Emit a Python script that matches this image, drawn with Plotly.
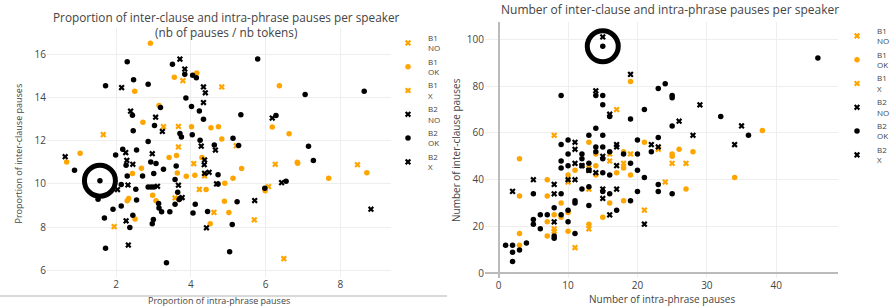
import plotly.graph_objects as go

W, H = 893, 307

# ---------------- Left chart: proportions ----------------
L_B1_NO_x = [1.66, 3.27, 3.79, 4.83, 3.67, 5.22, 4.37, 3.58, 6.08, 5.70]
L_B1_NO_y = [12.28, 12.65, 14.78, 14.49, 11.71, 11.77, 10.37, 9.35, 9.88, 8.34]
L_B1_OK_x = [2.92, 2.50, 3.15, 2.72, 1.04, 0.68, 2.68, 2.44, 2.34, 2.30, 2.98, 3.07, 2.51,
             3.56, 4.16, 6.37, 6.18, 4.02, 4.54, 4.74, 4.83, 3.42, 3.62, 4.30, 3.64, 3.88,
             4.11, 5.36, 4.41, 4.91, 5.13, 4.90, 5.99, 5.02, 4.52, 6.63, 6.85, 6.86, 7.69, 8.71]
L_B1_OK_y = [16.51, 14.29, 13.63, 12.85, 11.42, 11.02, 10.72, 10.48, 9.32, 9.22, 9.48, 9.22, 8.37,
             14.94, 15.14, 14.55, 12.63, 12.65, 12.60, 12.65, 12.08, 11.22, 11.32, 11.22, 10.51, 10.35,
             10.40, 10.71, 9.74, 10.03, 10.26, 9.20, 9.68, 8.68, 8.15, 12.32, 11.00, 10.96, 10.26, 10.52]
L_B1_X_x = [3.67, 4.08, 4.23, 4.62, 6.49, 1.95, 6.26, 8.46]
L_B1_X_y = [12.66, 10.94, 9.75, 8.68, 6.54, 8.02, 10.91, 10.89]
L_B2_NO_x = [2.15, 2.39, 3.06, 3.24, 0.64, 2.26, 2.97, 2.29, 2.45, 2.32, 2.04, 2.27, 2.33, 3.11, 3.71, 3.84]
L_B2_NO_y = [14.46, 13.37, 13.09, 12.43, 11.26, 11.45, 11.40, 11.09, 10.91, 9.95, 9.74, 8.29, 7.17, 9.89, 15.78, 15.32]
L_B2_OK_x = [2.30, 2.47, 1.72, 2.86, 3.19, 2.44, 3.03, 2.46, 2.86, 0.89, 1.99, 2.18, 2.55, 2.93, 3.07,
             3.27, 2.27, 3.01, 2.30, 2.71, 1.57, 2.14, 2.53, 2.86, 2.94, 3.01, 1.52, 2.55, 3.14, 3.22,
             3.15, 1.92, 2.14, 1.69, 2.45, 3.00, 2.97, 2.37, 1.72, 3.35, 3.51, 3.84, 4.05, 4.15, 5.79,
             3.87, 4.02, 4.23, 4.34, 5.34, 6.28, 3.71, 3.75, 4.04, 5.13, 4.25, 4.63, 5.28, 3.61, 4.73,
             3.58, 3.65, 3.58, 3.69, 3.72, 4.73, 5.24, 5.98, 6.55, 4.12, 4.06, 4.45, 5.11, 5.04, 3.44,
             7.06, 8.64, 7.15, 7.28]
L_B2_OK_y = [15.66, 14.82, 14.55, 14.62, 13.54, 13.18, 12.71, 12.46, 11.97, 10.63, 11.34, 11.60, 11.57, 11.02, 10.95,
             10.68, 10.86, 10.48, 10.37, 10.37, 10.15, 9.97, 9.75, 9.86, 9.86, 9.86, 9.29, 9.25, 9.09, 8.71,
             8.89, 8.83, 8.98, 8.42, 8.55, 8.35, 8.15, 7.98, 7.02, 6.35, 15.54, 15.08, 15.03, 14.92, 15.78,
             13.98, 13.58, 13.38, 13.00, 13.20, 13.17, 12.34, 12.17, 12.28, 12.12, 12.02, 11.80, 11.78, 10.83, 10.42,
             10.20, 9.62, 9.06, 9.28, 9.34, 10.00, 9.18, 9.80, 10.12, 9.06, 8.65, 8.72, 8.12, 6.86, 8.71,
             14.14, 14.29, 11.74, 11.08]
L_B2_X_x = [4.34, 4.39, 4.34, 6.18, 4.28, 4.66, 4.37, 4.36, 4.37, 4.49, 3.67, 3.77, 5.71, 6.43, 4.42, 8.82, 4.69]
L_B2_X_y = [14.49, 14.22, 13.77, 13.05, 11.75, 11.57, 11.11, 10.89, 10.49, 10.54, 9.94, 9.37, 9.23, 10.06, 7.97, 8.83, 10.00]
L_highlight_x = [1.57]
L_highlight_y = [10.15]

# ---------------- Right chart: counts ----------------
R_B1_NO_x = [8, 17, 16, 19, 23, 25, 27, 16, 18]
R_B1_NO_y = [59, 70, 51, 51, 53, 47, 47, 48, 47]
R_B1_OK_x = [19, 38, 13, 21, 26, 28, 25, 25, 18, 14, 14, 14, 17, 18, 19, 10, 11, 3, 3, 7, 7, 27, 34,
             15, 16, 18, 9, 9, 8, 10, 10, 7, 7, 3, 3, 13]
R_B1_OK_y = [82, 61, 56, 56, 53, 52, 51, 50, 52, 51, 46, 42, 43, 45, 42, 42, 44, 49, 33, 40, 33, 36, 41,
             24, 30, 31, 30, 24, 25, 26, 18, 22, 16, 17, 12, 21]
R_B1_X_x = [24, 21, 10, 13, 13, 8, 8, 11, 13]
R_B1_X_y = [39, 27, 39, 45, 19, 19, 18, 11, 36]
R_B2_NO_x = [15, 19, 14, 29, 16, 35, 26, 28, 11, 11, 17, 17, 22, 23, 34, 15]
R_B2_NO_y = [101, 85, 78, 72, 68, 63, 65, 59, 56, 53, 55, 54, 55, 54, 55, 50]
R_B2_OK_x = [15, 46, 23, 24, 9, 14, 15, 25, 25, 15, 16, 21, 32, 19, 25, 14, 36, 13, 15, 9, 10, 14, 14,
             15, 20, 23, 22, 10, 12, 16, 18, 20, 12, 15, 9, 9, 10, 12, 13, 13, 19, 15, 16, 20, 21, 23,
             23, 25, 20, 15, 16, 17, 19, 5, 9, 11, 11, 12, 13, 13, 1, 2, 2, 2, 3, 4, 5, 5, 6, 6, 7, 8,
             8, 8, 9, 10, 10, 11]
R_B2_OK_y = [97, 92, 79, 81, 76, 76, 76, 76, 75, 72, 67, 70, 67, 66, 63, 62, 59, 59, 59, 55, 57, 54, 52,
             54, 57, 58, 52, 51, 51, 52, 51, 51, 49, 49, 48, 45, 46, 46, 47, 44, 47, 43, 42, 44, 41, 38,
             35, 34, 35, 35, 34, 27, 31, 34, 34, 31, 30, 36, 37, 29, 12, 12, 9, 5, 10, 13, 23, 21, 25, 19, 25, 28,
             16, 15, 25, 27, 22, 17]
R_B2_X_x = [11, 12, 17, 14, 13, 5, 10, 11, 2, 8, 8, 15, 15, 16, 17, 21, 8]
R_B2_X_y = [47, 46, 46, 43, 44, 40, 40, 40, 35, 38, 34, 36, 32, 25, 36, 21, 22]
R_highlight_x = [15]
R_highlight_y = [97]

ORANGE = "#FFA500"
BLACK = "#000000"
series = [
    ("B1<br>NO", "x", ORANGE),
    ("B1<br>OK", "circle", ORANGE),
    ("B1<br>X", "x", ORANGE),
    ("B2<br>NO", "x", BLACK),
    ("B2<br>OK", "circle", BLACK),
    ("B2<br>X", "x", BLACK),
]
left_data = [(L_B1_NO_x, L_B1_NO_y), (L_B1_OK_x, L_B1_OK_y), (L_B1_X_x, L_B1_X_y),
             (L_B2_NO_x, L_B2_NO_y), (L_B2_OK_x, L_B2_OK_y), (L_B2_X_x, L_B2_X_y)]
right_data = [(R_B1_NO_x, R_B1_NO_y), (R_B1_OK_x, R_B1_OK_y), (R_B1_X_x, R_B1_X_y),
              (R_B2_NO_x, R_B2_NO_y), (R_B2_OK_x, R_B2_OK_y), (R_B2_X_x, R_B2_X_y)]

fig = go.Figure()
for (name, sym, col), (xs, ys) in zip(series, left_data):
    fig.add_trace(go.Scatter(x=xs, y=ys, mode="markers", name=name, xaxis="x", yaxis="y",
                             legend="legend",
                             marker=dict(symbol=sym, color=col, size=5.5,
                                         line=dict(width=0))))
for (name, sym, col), (xs, ys) in zip(series, right_data):
    fig.add_trace(go.Scatter(x=xs, y=ys, mode="markers", name=name, xaxis="x2", yaxis="y2",
                             legend="legend2",
                             marker=dict(symbol=sym, color=col, size=5.5,
                                         line=dict(width=0))))
fig.add_trace(go.Scatter(x=L_highlight_x, y=L_highlight_y, mode="markers", xaxis="x", yaxis="y",
                         showlegend=False, hoverinfo="skip",
                         marker=dict(symbol="circle-open", size=31, color=BLACK, line=dict(width=5))))
fig.add_trace(go.Scatter(x=R_highlight_x, y=R_highlight_y, mode="markers", xaxis="x2", yaxis="y2",
                         showlegend=False, hoverinfo="skip",
                         marker=dict(symbol="circle-open", size=31, color=BLACK, line=dict(width=5))))

def px(v):
    return v / W

def py(v):
    return 1 - v / H

FONT = "Open Sans, Verdana, Arial, sans-serif"
TXT = "#444"
grid = "#eee"
axis_common = dict(showgrid=True, gridcolor=grid, gridwidth=1, showline=False, ticks="",
                   tickfont=dict(size=10, color=TXT, family=FONT), automargin=False)

fig.update_layout(
    width=W, height=H,
    margin=dict(l=0, r=0, t=0, b=0, pad=0, autoexpand=False),
    paper_bgcolor="white", plot_bgcolor="white",
    font=dict(family=FONT, color=TXT),
    xaxis=dict(domain=[px(47), px(391)], range=[0.154, 9.357], anchor="y", zeroline=False,
               tickvals=[2, 4, 6, 8], **axis_common),
    yaxis=dict(domain=[py(277), py(28)], range=[5.69, 17.22], anchor="x", zeroline=False,
               tickvals=[6, 8, 10, 12, 14, 16], **axis_common),
    xaxis2=dict(domain=[px(485), px(838)], range=[-1.97, 48.9], anchor="y2", zeroline=True,
                zerolinecolor="#bbb", zerolinewidth=2, tickvals=[0, 10, 20, 30, 40], **axis_common),
    yaxis2=dict(domain=[py(278), py(22)], range=[-2.0, 107.4], anchor="x2", zeroline=True,
                zerolinecolor="#bbb", zerolinewidth=2, tickvals=[0, 20, 40, 60, 80, 100], **axis_common),
    legend=dict(x=px(388), y=py(26), xanchor="left", yanchor="top", font=dict(size=8, color=TXT),
                bgcolor="rgba(0,0,0,0)", tracegroupgap=0),
    legend2=dict(x=px(837), y=py(19), xanchor="left", yanchor="top", font=dict(size=8, color=TXT),
                 bgcolor="rgba(0,0,0,0)", tracegroupgap=0),
    showlegend=True,
)

annots = [
    dict(text="Proportion of inter-clause and intra-phrase pauses per speaker<br>(nb of pauses / nb tokens)",
         x=px(226), y=py(24), size=11.8),
    dict(text="Number of inter-clause and intra-phrase pauses per speaker", x=px(669.5), y=py(9.5), size=12),
    dict(text="Proportion of intra-phrase pauses", x=px(219), y=py(300), size=9),
    dict(text="Number of intra-phrase pauses", x=px(661.5), y=py(299), size=10),
]
for a in annots:
    fig.add_annotation(text=a["text"], x=a["x"], y=a["y"], xref="paper", yref="paper",
                       xanchor="center", yanchor="middle", showarrow=False,
                       font=dict(size=a["size"], color=TXT, family=FONT))
fig.add_annotation(text="Proportion of inter-clause pauses", x=px(17.5), y=py(154), xref="paper", yref="paper",
                   textangle=-90, showarrow=False, xanchor="center", yanchor="middle",
                   font=dict(size=9, color=TXT, family=FONT))
fig.add_annotation(text="Number of inter-clause pauses", x=px(456), y=py(150), xref="paper", yref="paper",
                   textangle=-90, showarrow=False, xanchor="center", yanchor="middle",
                   font=dict(size=10, color=TXT, family=FONT))

fig.add_shape(type="line", xref="paper", yref="paper", x0=0, x1=px(447), y0=py(296), y1=py(296),
              line=dict(color="#ccc", width=1.5))

fig.write_html("out.html", config={"displayModeBar": False},
               post_script="document.body.style.margin='0';document.body.style.overflow='hidden';")
